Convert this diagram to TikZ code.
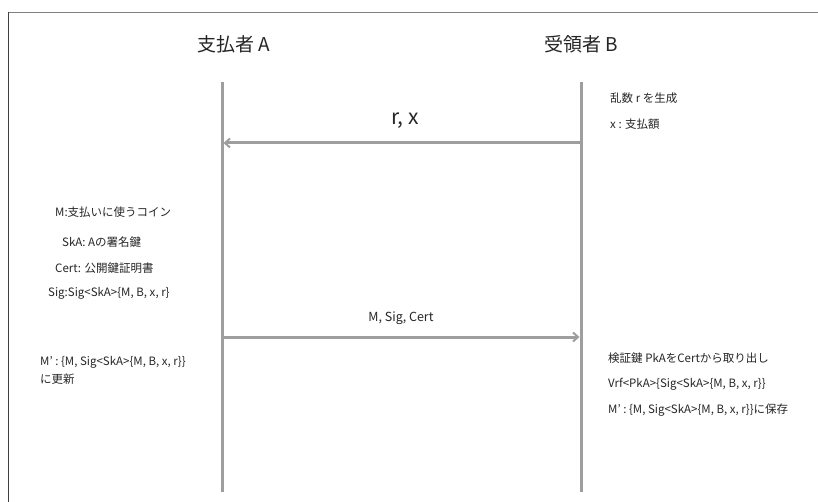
\documentclass[tikz,border=0pt]{standalone}
\usepackage{fontspec}
\setmainfont{Noto Sans CJK JP}
\usetikzlibrary{arrows.meta}
\begin{document}
\begin{tikzpicture}[x=1pt,y=-1pt,
  life/.style={draw=black!38,line width=3pt},
  msg/.style={draw=black!38,line width=3pt,-{Straight Barb[length=5pt,width=9pt,line width=2pt]}},
  title/.style={font=\fontsize{19}{22}\selectfont,text=black!85,inner sep=0pt},
  note/.style={font=\fontsize{11.5}{14}\selectfont,text=black!85,anchor=west,inner sep=0pt},
  lbl/.style={text=black!85,inner sep=0pt}]
\useasboundingbox (0,0) rectangle (818,502);
\fill[white] (0,0) rectangle (818,502);
\draw[black!50,line width=1.2pt] (8,12.5) -- (818,12.5);
\draw[black!75,line width=1.2pt] (8.5,12) -- (8.5,502);
\node[title] (ta) at (234,44) {支払者 A};
\node[title] (tb) at (581,44) {受領者 B};
\coordinate (a0) at (222,82);
\coordinate (a1) at (222,492);
\coordinate (b0) at (581,82);
\coordinate (b1) at (581,492);
\draw[life] (a0) -- (a1);
\draw[life] (b0) -- (b1);
\coordinate (m1b) at (581,143);
\coordinate (m1a) at (223.5,143);
\draw[msg] (m1b) -- (m1a);
\node[lbl,font=\fontsize{21}{24}\selectfont] (l1) at (405,121) {r, x};
\coordinate (m2a) at (222,337);
\coordinate (m2b) at (579.5,337);
\draw[msg] (m2a) -- (m2b);
\node[lbl,font=\fontsize{12.5}{15}\selectfont] (l2) at (401,318) {M, Sig, Cert};
\node[note] (r1) at (610,98) {乱数 r を生成};
\node[note] (r2) at (610,124) {x : 支払額};
\node[note] (n1) at (55,212) {M:支払いに使うコイン};
\node[note] (n2) at (62,242) {SkA: Aの署名鍵};
\node[note] (n3) at (55,268) {Cert: 公開鍵証明書};
\node[note] (n4) at (48,293) {Sig:Sig<SkA>\{M, B, x, r\}};
\node[note] (n5) at (40,362) {M’ : \{M,\ Sig<SkA>\{M, B, x, r\}\}};
\node[note] (n6) at (40,379) {に更新};
\node[note] (v1) at (608,358) {検証鍵 PkAをCertから取り出し};
\node[note] (v2) at (608,384) {Vrf<PkA>\{Sig<SkA>\{M, B, x, r\}\}};
\node[note] (v3) at (608,410) {M’ : \{M,\ Sig<SkA>\{M, B, x, r\}\}に保存};
\end{tikzpicture}
\end{document}
